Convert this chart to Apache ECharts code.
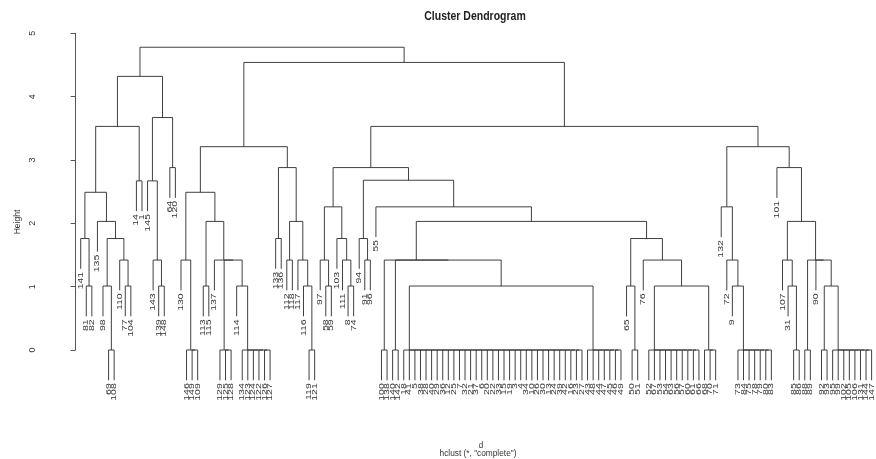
<!DOCTYPE html>
<html>
<head>
<meta charset="utf-8">
<script src="https://cdn.jsdelivr.net/npm/echarts@6/dist/echarts.min.js"></script>
<style>
  html, body { margin: 0; padding: 0; background: #ffffff; }
  #chart { width: 876px; height: 459px; }
</style>
</head>
<body>
<div id="chart"></div>
<script>
// Leaf labels, left to right in dendrogram order
const leafLabels = [
  141, 81, 82, 135, 98, 69, 108, 110, 77, 104,
  14, 1, 145, 143, 139, 148, 64, 120, 130, 146,
  149, 109, 113, 115, 137, 129, 125, 128, 114, 134,
  123, 124, 122, 126, 127, 133, 136, 112, 118, 117,
  116, 119, 121, 97, 58, 59, 103, 111, 8, 74,
  94, 91, 96, 55, 100, 138, 140, 142, 18, 41,
  5, 38, 28, 40, 29, 36, 12, 25, 7, 32,
  21, 37, 6, 20, 22, 33, 15, 19, 3, 4,
  34, 10, 26, 30, 13, 24, 39, 42, 16, 23,
  27, 43, 48, 44, 47, 45, 46, 49, 65, 50,
  51, 76, 52, 67, 53, 54, 63, 56, 57, 60,
  61, 66, 68, 70, 71, 132, 72, 9, 73, 84,
  75, 78, 79, 80, 83, 101, 107, 31, 85, 86,
  88, 89, 90, 92, 93, 95, 99, 102, 105, 106,
  131, 144, 147
];

// Merge steps: negative = leaf position (1-based), positive = earlier merge step (1-based)
const mergePairs = [
  [-2, -3], [-1, 1], [-6, -7], [-5, 3], [-9, -10], [-8, 5], [4, 6], [-4, 7], [2, 8], [-11, -12],
  [9, 10], [-15, -16], [-14, 12], [-13, 13], [-17, -18], [14, 15], [11, 16], [-21, -22], [-20, 18], [-19, 19],
  [-23, -24], [-27, -28], [-26, 22], [-34, -35], [-33, 24], [-32, 25], [-31, 26], [-30, 27], [-29, 28], [23, 29],
  [-25, 30], [21, 31], [20, 32], [-36, -37], [-38, -39], [-42, -43], [-41, 36], [-40, 37], [35, 38], [34, 39],
  [33, 40], [-45, -46], [-44, 42], [-49, -50], [-48, 44], [-47, 45], [43, 46], [-52, -53], [-51, 48], [-55, -56],
  [-57, -58], [-90, -91], [-89, 52], [-88, 53], [-87, 54], [-86, 55], [-85, 56], [-84, 57], [-83, 58], [-82, 59],
  [-81, 60], [-80, 61], [-79, 62], [-78, 63], [-77, 64], [-76, 65], [-75, 66], [-74, 67], [-73, 68], [-72, 69],
  [-71, 70], [-70, 71], [-69, 72], [-68, 73], [-67, 74], [-66, 75], [-65, 76], [-64, 77], [-63, 78], [-62, 79],
  [-61, 80], [-60, 81], [-59, 82], [-97, -98], [-96, 84], [-95, 85], [-94, 86], [-93, 87], [-92, 88], [83, 89],
  [51, 90], [50, 91], [-100, -101], [-99, 93], [-111, -112], [-110, 95], [-109, 96], [-108, 97], [-107, 98], [-106, 99],
  [-105, 100], [-104, 101], [-103, 102], [-114, -115], [-113, 104], [103, 105], [-102, 106], [94, 107], [92, 108], [-54, 109],
  [49, 110], [47, 111], [-124, -125], [-123, 113], [-122, 114], [-121, 115], [-120, 116], [-119, 117], [-118, 118], [-117, 119],
  [-116, 120], [-129, -130], [-128, 122], [-127, 123], [-131, -132], [-134, -135], [-142, -143], [-141, 127], [-140, 128], [-139, 129],
  [-138, 130], [-137, 131], [-136, 132], [126, 133], [-133, 134], [125, 135], [124, 136], [-126, 137], [121, 138], [112, 139],
  [41, 140], [17, 141]
];

// Height of each merge step
const mergeHeights = [
  1.01, 1.76, 0, 1.01, 1.01, 1.42, 1.76, 2.03, 2.49, 2.67,
  3.53, 1.01, 1.42, 2.67, 2.88, 3.67, 4.32, 0, 0, 1.42,
  1.01, 0, 0, 0, 0, 0, 0, 0, 1.01, 1.42,
  1.42, 2.03, 2.49, 1.76, 1.42, 0, 1.01, 1.42, 2.03, 2.88,
  3.21, 1.01, 1.42, 1.01, 1.42, 1.76, 2.26, 1.42, 1.76, 0,
  0, 0, 0, 0, 0, 0, 0, 0, 0, 0,
  0, 0, 0, 0, 0, 0, 0, 0, 0, 0,
  0, 0, 0, 0, 0, 0, 0, 0, 0, 0,
  0, 0, 0, 0, 0, 0, 0, 0, 0, 1.01,
  1.42, 1.42, 0, 1.01, 0, 0, 0, 0, 0, 0,
  0, 0, 0, 0, 0, 1.01, 1.42, 1.76, 2.03, 2.26,
  2.68, 2.88, 0, 0, 0, 0, 0, 0, 1.01, 1.42,
  2.26, 0, 1.01, 1.42, 0, 0, 0, 0, 0, 0,
  0, 0, 0, 1.01, 1.42, 1.42, 2.03, 2.88, 3.21, 3.53,
  4.54, 4.78
];

const heightTicks = [0, 1, 2, 3, 4, 5];
const hangRatio = 0.1;

// Lay out the tree: leaves sit at 1..n, each merge at the midpoint of its children
const hang = hangRatio * Math.max(...mergeHeights);
const nodeX = [];
const segments = [];
const leafEnds = [];
const xOf = ref => (ref < 0 ? -ref : nodeX[ref - 1]);
const lowerEnd = (ref, h) => (ref < 0 ? h - hang : mergeHeights[ref - 1]);

mergePairs.forEach(([a, b], i) => {
  const h = mergeHeights[i];
  const xa = xOf(a), xb = xOf(b);
  nodeX[i] = (xa + xb) / 2;
  segments.push([xa, h, xb, h]);
  segments.push([xa, h, xa, lowerEnd(a, h)]);
  segments.push([xb, h, xb, lowerEnd(b, h)]);
  if (a < 0) leafEnds.push([xa, h - hang, leafLabels[-a - 1]]);
  if (b < 0) leafEnds.push([xb, h - hang, leafLabels[-b - 1]]);
});

const FONT = '"Liberation Sans", Arial, Helvetica, sans-serif';
const chart = echarts.init(document.getElementById('chart'), null, { renderer: 'canvas' });

chart.setOption({
  animation: false,
  backgroundColor: '#ffffff',
  grid: { left: 47.3, right: 1.6, top: 33.3, bottom: 109, containLabel: false },
  xAxis: { type: 'value', min: -5, max: 143.5, show: false },
  yAxis: {
    type: 'value', min: 0, max: 5, interval: 1,
    axisLine: { show: true, lineStyle: { color: '#555', width: 1 } },
    axisTick: { show: true, length: 4.5, lineStyle: { color: '#555' } },
    splitLine: { show: false },
    axisLabel: {
      rotate: 90, margin: 10, fontSize: 9, color: '#333', fontFamily: FONT,
      formatter: v => (heightTicks.includes(v) ? String(v) : '')
    }
  },
  graphic: [
    { type: 'text', x: 475, y: 16, scaleY: 1.25,
      style: { text: 'Cluster Dendrogram', font: 'bold 10.5px ' + FONT, fill: '#222', align: 'center', verticalAlign: 'middle' } },
    { type: 'text', x: 17.5, y: 222, rotation: Math.PI / 2,
      style: { text: 'Height', font: '8.5px ' + FONT, fill: '#333', align: 'center', verticalAlign: 'middle' } },
    { type: 'text', x: 481, y: 445, scaleY: 1.2,
      style: { text: 'd', font: '8px ' + FONT, fill: '#333', align: 'center', verticalAlign: 'middle' } },
    { type: 'text', x: 478, y: 453.5, scaleY: 1.2,
      style: { text: 'hclust (*, "complete")', font: '8.3px ' + FONT, fill: '#333', align: 'center', verticalAlign: 'middle' } }
  ],
  series: [
    {
      type: 'custom',
      clip: false,
      silent: true,
      encode: { x: [0, 2], y: [1, 3] },
      data: segments,
      renderItem: (params, api) => {
        const p1 = api.coord([api.value(0), api.value(1)]);
        const p2 = api.coord([api.value(2), api.value(3)]);
        return {
          type: 'line',
          shape: { x1: p1[0], y1: p1[1], x2: p2[0], y2: p2[1] },
          style: { stroke: '#2a2a2a', lineWidth: 0.9 }
        };
      }
    },
    {
      type: 'custom',
      clip: false,
      silent: true,
      encode: { x: 0, y: 1 },
      data: leafEnds,
      renderItem: (params, api) => {
        const p = api.coord([api.value(0), api.value(1)]);
        return {
          type: 'text',
          x: p[0], y: p[1] + 3,
          rotation: Math.PI / 2,
          scaleX: 1.4,
          style: {
            text: String(leafEnds[params.dataIndex][2]),
            font: '7.5px ' + FONT, fill: '#333',
            align: 'right', verticalAlign: 'middle'
          }
        };
      }
    }
  ]
});
</script>
</body>
</html>
